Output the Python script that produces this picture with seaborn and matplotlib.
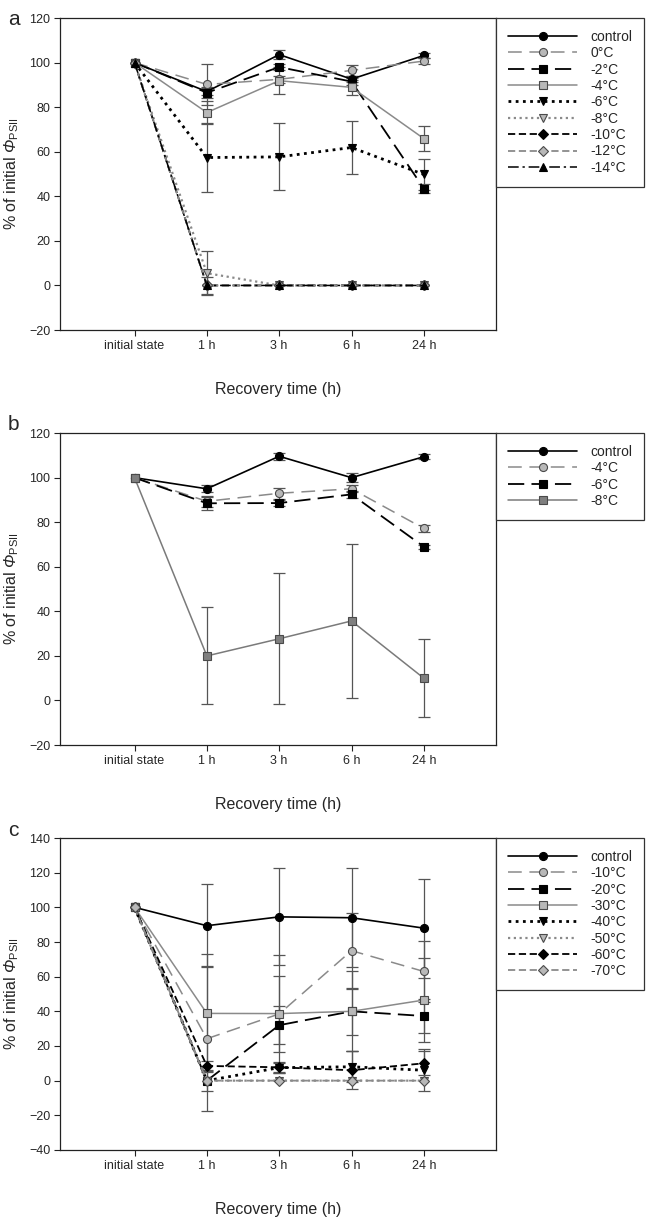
import numpy as np
import matplotlib
matplotlib.use("Agg")
import matplotlib.pyplot as plt
from matplotlib import font_manager
import seaborn as sns

# recovery time categories
x_labels = ['initial state', '1 h', '3 h', '6 h', '24 h']

# panel a
a_names = ['control', '0°C', '-2°C', '-4°C', '-6°C', '-8°C', '-10°C', '-12°C', '-14°C']
a_control = [100, 87.0, 103.6, 92.6, 103.2]
a_0 = [100, 90.2, 92.5, 96.5, 100.7]
a_m2 = [100, 86.5, 98.0, 91.5, 43.5]
a_m4 = [100, 77.6, 91.9, 88.9, 65.9]
a_m6 = [100, 57.4, 57.7, 61.9, 49.8]
a_m8 = [100, 5.5, 0, 0, 0]
a_m10 = [100, 0, 0, 0, 0]
a_m12 = [100, 0, 0, 0, 0]
a_m14 = [100, 0, 0, 0, 0]
a_control_err = [0, 1.5, 2.0, 1.5, 1.0]
a_0_err = [0, 9.0, 1.5, 2.5, 1.5]
a_m2_err = [0, 2.5, 1.5, 1.5, 2.2]
a_m4_err = [0, 5.0, 6.0, 3.5, 5.5]
a_m6_err = [0, 15.5, 15.0, 12.0, 7.0]
a_m8_err = [0, 10.0, 0, 0, 0]
a_m10_err = [0, 4.0, 0, 0, 0]
a_m12_err = [0, 0, 0, 0, 0]
a_m14_err = [0, 0, 0, 0, 0]

# panel b
b_names = ['control', '-4°C', '-6°C', '-8°C']
b_control = [100, 95.0, 109.6, 100.0, 109.4]
b_m4 = [100, 89.4, 93.0, 95.0, 77.2]
b_m6 = [100, 88.5, 88.6, 92.5, 69.0]
b_m8 = [100, 20.0, 27.7, 35.7, 10.0]
b_control_err = [0, 1.5, 1.5, 2.0, 1.0]
b_m4_err = [0, 2.5, 2.5, 1.5, 1.5]
b_m6_err = [0, 3.0, 1.5, 1.5, 1.0]
b_m8_err = [0, 21.8, 29.5, 34.5, 17.5]

# panel c
c_names = ['control', '-10°C', '-20°C', '-30°C', '-40°C', '-50°C', '-60°C', '-70°C']
c_control = [100, 89.4, 94.5, 94.0, 88.0]
c_m10 = [100, 24.2, 38.5, 75.0, 63.0]
c_m20 = [100, 0, 32.0, 40.0, 37.3]
c_m30 = [100, 38.8, 38.7, 40.0, 46.5]
c_m40 = [100, 0, 7.5, 8.0, 6.0]
c_m50 = [100, 0, 0, 0, 0]
c_m60 = [100, 8.5, 7.7, 6.0, 10.0]
c_m70 = [100, 0, 0, 0, 0]
c_control_err = [0, 24.0, 28.0, 28.5, 28.5]
c_m10_err = [0, 42.0, 22.0, 22.0, 17.5]
c_m20_err = [0, 6.0, 11.0, 23.0, 10.0]
c_m30_err = [0, 34.0, 34.0, 13.5, 24.0]
c_m40_err = [0, 0, 3.0, 9.0, 12.0]
c_m50_err = [0, 0, 0, 0, 0]
c_m60_err = [0, 3.0, 2.5, 11.0, 7.0]
c_m70_err = [0, 0, 0, 0, 0]

sns.set_style("ticks")
names = {f.name for f in font_manager.fontManager.ttflist}
narrow = 'Liberation Sans Narrow' if 'Liberation Sans Narrow' in names else 'Liberation Sans'
plt.rcParams['font.family'] = ['Liberation Sans', 'DejaVu Sans']
plt.rcParams['mathtext.fontset'] = 'custom'
plt.rcParams['mathtext.rm'] = narrow
# mathtext keeps capital greek upright in 'it', so the italic phi goes through 'sf'
plt.rcParams['mathtext.sf'] = narrow + ':italic'

GRAY = '#8a8a8a'
LIGHT = '#b8b8b8'
EDGE = '#4a4a4a'
ERR = '#555555'

# style per series: colour, marker, face, linestyle, linewidth
styles = {
    'control': ('black', 'o', 'black', '-', 1.2),
    'g_circle': (GRAY, 'o', LIGHT, (0, (9, 5)), 1.1),
    'b_square': ('black', 's', 'black', (0, (9, 4)), 1.3),
    'g_square': (GRAY, 's', LIGHT, '-', 1.1),
    'b_tri': ('black', 'v', 'black', (0, (1, 1.6)), 2.0),
    'g_tri': (GRAY, 'v', LIGHT, (0, (1, 1.6)), 1.6),
    'b_dia': ('black', 'D', 'black', (0, (4, 2)), 1.3),
    'g_dia': (GRAY, 'D', LIGHT, (0, (4, 2)), 1.3),
    'b_up': ('black', '^', 'black', (0, (7, 2.5, 1.5, 2.5)), 1.1),
    'dg_square': ('#7a7a7a', 's', '#7f7f7f', '-', 1.1),
}

x = np.arange(len(x_labels))


def draw(ax, name, vals, err, key):
    col, mk, face, ls, lw = styles[key]
    vals = np.array(vals, dtype=float)
    err = np.array(err, dtype=float)
    keep = err > 0
    if keep.any():
        ax.errorbar(x[keep], vals[keep], yerr=err[keep], fmt='none', ecolor=ERR,
                    elinewidth=0.9, capsize=4, capthick=0.9, zorder=1)
    ms = 5.8 if mk != 'D' else 4.8
    edge = 'black' if face == 'black' else EDGE
    sns.lineplot(x=x, y=vals, ax=ax, color=col, marker=mk, linestyle=ls, lw=lw,
                 markersize=ms, markerfacecolor=face, markeredgecolor=edge,
                 markeredgewidth=0.8, label=name, zorder=3)


def style_axes(ax, ylim, yticks):
    ax.set_xlim(-1.03, 5.0)
    ax.set_ylim(*ylim)
    ax.set_yticks(yticks)
    ax.set_xticks(x)
    ax.set_xticklabels(x_labels, fontfamily=narrow, fontsize=9)
    for t in ax.get_yticklabels():
        t.set_fontfamily(narrow)
        t.set_fontsize(9)
    for s in ax.spines.values():
        s.set_visible(True)
        s.set_color('#222222')
        s.set_linewidth(0.9)
    ax.tick_params(direction='out', length=4, width=0.8, color='#222222', pad=3,
                   top=False, right=False)
    ax.set_xlabel('Recovery time (h)', fontfamily=narrow, fontsize=11.5, labelpad=22)
    ax.set_ylabel('% of initial $\\mathsf{Φ}_{\\mathrm{PSII}}$', fontfamily=narrow,
                  fontsize=11.5, labelpad=6)
    leg = ax.legend(loc='upper left', bbox_to_anchor=(1.0, 1.0), borderaxespad=0,
                    frameon=True, fancybox=False, framealpha=1, edgecolor='#333333',
                    handlelength=5.0, numpoints=1, labelspacing=0.17, handletextpad=0.95,
                    borderpad=0.85, prop={'family': 'Liberation Sans', 'size': 10})
    leg.get_frame().set_linewidth(0.9)
    ax.grid(False)


fig = plt.figure(figsize=(6.49, 12.2), dpi=100)
L, W, H = 0.0925, 0.672, 0.2557

ax_a = fig.add_axes([L, 0.7295, W, H])
draw(ax_a, a_names[0], a_control, a_control_err, 'control')
draw(ax_a, a_names[1], a_0, a_0_err, 'g_circle')
draw(ax_a, a_names[2], a_m2, a_m2_err, 'b_square')
draw(ax_a, a_names[3], a_m4, a_m4_err, 'g_square')
draw(ax_a, a_names[4], a_m6, a_m6_err, 'b_tri')
draw(ax_a, a_names[5], a_m8, a_m8_err, 'g_tri')
draw(ax_a, a_names[6], a_m10, a_m10_err, 'b_dia')
draw(ax_a, a_names[7], a_m12, a_m12_err, 'g_dia')
draw(ax_a, a_names[8], a_m14, a_m14_err, 'b_up')
style_axes(ax_a, (-20, 120), np.arange(-20, 121, 20))

ax_b = fig.add_axes([L, 0.3893, W, H])
draw(ax_b, b_names[0], b_control, b_control_err, 'control')
draw(ax_b, b_names[1], b_m4, b_m4_err, 'g_circle')
draw(ax_b, b_names[2], b_m6, b_m6_err, 'b_square')
draw(ax_b, b_names[3], b_m8, b_m8_err, 'dg_square')
style_axes(ax_b, (-20, 120), np.arange(-20, 121, 20))

ax_c = fig.add_axes([L, 0.0574, W, H])
draw(ax_c, c_names[0], c_control, c_control_err, 'control')
draw(ax_c, c_names[1], c_m10, c_m10_err, 'g_circle')
draw(ax_c, c_names[2], c_m20, c_m20_err, 'b_square')
draw(ax_c, c_names[3], c_m30, c_m30_err, 'g_square')
draw(ax_c, c_names[4], c_m40, c_m40_err, 'b_tri')
draw(ax_c, c_names[5], c_m50, c_m50_err, 'g_tri')
draw(ax_c, c_names[6], c_m60, c_m60_err, 'b_dia')
draw(ax_c, c_names[7], c_m70, c_m70_err, 'g_dia')
style_axes(ax_c, (-40, 140), np.arange(-40, 141, 20))

for lab, yy in [('a', 0.992), ('b', 0.66), ('c', 0.327)]:
    fig.text(0.012, yy, lab, fontsize=15, va='top', ha='left', family='Liberation Sans')

fig.savefig('out.png', dpi=100)
